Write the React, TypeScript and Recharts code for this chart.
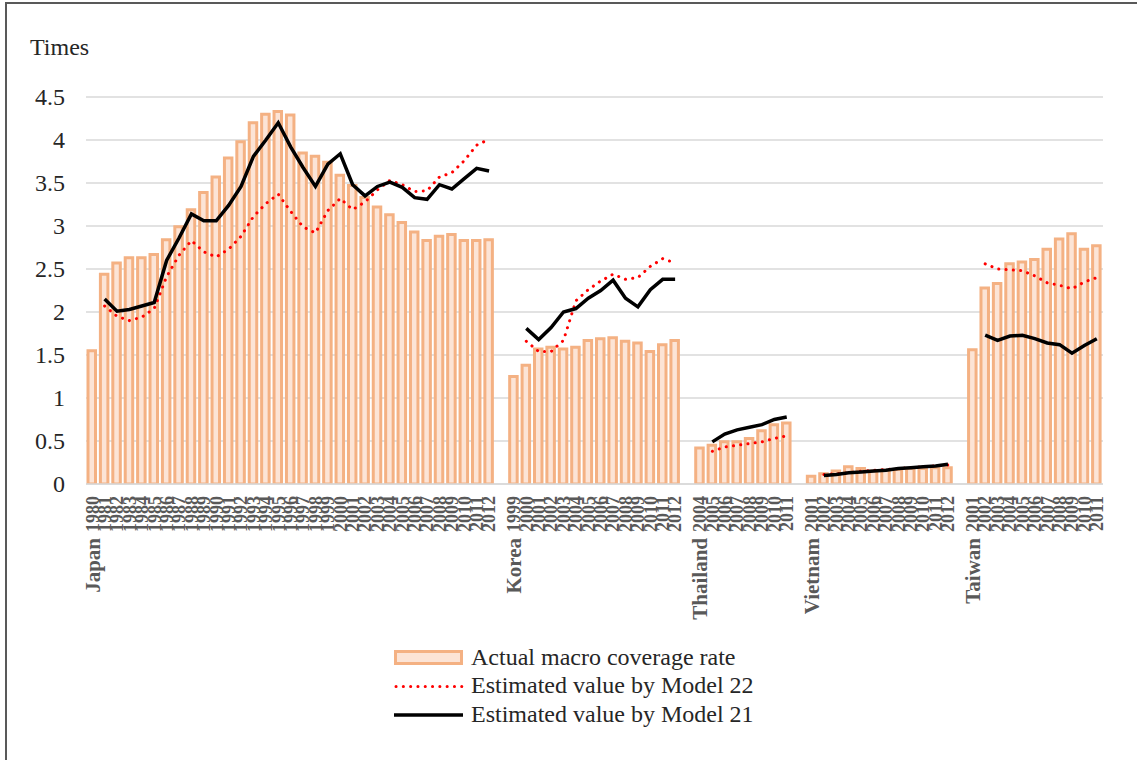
import React from "react";
import { ComposedChart, Bar, Line, XAxis, YAxis, CartesianGrid } from "recharts";

const countries = ["Japan", "Korea", "Thailand", "Vietnam", "Taiwan"];

const japanYears = ["1980","1981","1982","1983","1984","1985","1986","1987","1988","1989","1990","1991","1992","1993","1994","1995","1996","1997","1998","1999","2000","2001","2002","2003","2004","2005","2006","2007","2008","2009","2010","2011","2012"];
const japanActual = [1.55,2.44,2.57,2.63,2.63,2.67,2.84,2.99,3.19,3.39,3.57,3.79,3.98,4.2,4.3,4.33,4.29,3.85,3.81,3.74,3.59,3.47,3.33,3.22,3.13,3.04,2.93,2.83,2.88,2.9,2.83,2.83,2.84];
const japanM21 = [null,2.15,2.01,2.03,2.07,2.11,2.6,2.86,3.14,3.06,3.06,3.24,3.46,3.81,4.0,4.2,3.92,3.68,3.46,3.72,3.84,3.48,3.35,3.46,3.51,3.45,3.33,3.31,3.48,3.43,3.55,3.67,3.64];
const japanM22 = [null,2.07,1.95,1.9,1.94,2.04,2.41,2.66,2.83,2.7,2.64,2.73,2.88,3.11,3.26,3.37,3.17,2.99,2.92,3.18,3.32,3.19,3.28,3.42,3.53,3.48,3.4,3.41,3.57,3.62,3.76,3.94,4.01];

const koreaYears = ["1999","2000","2001","2002","2003","2004","2005","2006","2007","2008","2009","2010","2011","2012"];
const koreaActual = [1.25,1.38,1.57,1.59,1.57,1.59,1.67,1.69,1.7,1.66,1.64,1.54,1.62,1.67];
const koreaM21 = [null,1.81,1.68,1.82,2.0,2.04,2.16,2.25,2.37,2.16,2.06,2.26,2.38,2.38];
const koreaM22 = [null,1.66,1.54,1.54,1.67,2.13,2.26,2.36,2.44,2.38,2.4,2.53,2.62,2.57];

const thailandYears = ["2004","2005","2006","2007","2008","2009","2010","2011"];
const thailandActual = [0.42,0.45,0.49,0.49,0.53,0.62,0.69,0.71];
const thailandM21 = [null,0.49,0.58,0.63,0.66,0.69,0.75,0.78];
const thailandM22 = [null,0.38,0.43,0.45,0.47,0.49,0.53,0.56];

const vietnamYears = ["2001","2002","2003","2004","2005","2006","2007","2008","2009","2010","2011","2012"];
const vietnamActual = [0.09,0.12,0.15,0.2,0.18,0.15,0.16,0.17,0.18,0.18,0.19,0.19];
const vietnamM21 = [null,0.1,0.11,0.13,0.14,0.15,0.16,0.18,0.19,0.2,0.21,0.23];
const vietnamM22 = [null,0.11,0.12,0.13,0.15,0.16,0.17,0.18,0.19,0.2,0.21,0.22];

const taiwanYears = ["2001","2002","2003","2004","2005","2006","2007","2008","2009","2010","2011"];
const taiwanActual = [1.56,2.28,2.33,2.56,2.58,2.61,2.73,2.85,2.91,2.73,2.77];
const taiwanM21 = [null,1.73,1.67,1.72,1.73,1.69,1.64,1.62,1.52,1.61,1.69];
const taiwanM22 = [null,2.56,2.5,2.49,2.48,2.42,2.34,2.31,2.27,2.35,2.4];

const yTicks = [0, 0.5, 1, 1.5, 2, 2.5, 3, 3.5, 4, 4.5];

const groups = [
  { years: japanYears, actual: japanActual, m21: japanM21, m22: japanM22 },
  { years: koreaYears, actual: koreaActual, m21: koreaM21, m22: koreaM22 },
  { years: thailandYears, actual: thailandActual, m21: thailandM21, m22: thailandM22 },
  { years: vietnamYears, actual: vietnamActual, m21: vietnamM21, m22: vietnamM22 },
  { years: taiwanYears, actual: taiwanActual, m21: taiwanM21, m22: taiwanM22 },
];

type Row = { key: string; country: string; year: string; actual: number | null; m21: number | null; m22: number | null };
const rows: Row[] = [];
groups.forEach((g, gi) => {
  if (gi > 0) rows.push({ key: "gap" + gi, country: "", year: "", actual: null, m21: null, m22: null });
  g.years.forEach((yr, i) => {
    rows.push({
      key: countries[gi] + "-" + yr,
      country: i === 0 ? countries[gi] : "",
      year: yr,
      actual: g.actual[i],
      m21: g.m21[i],
      m22: g.m22[i],
    });
  });
});
const rowByKey: Record<string, Row> = {};
rows.forEach((r) => (rowByKey[r.key] = r));

const FONT = '"Liberation Serif", "Times New Roman", serif';

const XTick = (props: any) => {
  const { x, payload } = props;
  const r = rowByKey[payload.value];
  if (!r || !r.year) return null;
  return (
    <g transform={`translate(${x},496) rotate(-90)`}>
      <text x={0} y={0} dy="0.35em" textAnchor="end" fontFamily={FONT} fontWeight="bold" fontSize={18} fill="#595959">
        {r.year}
      </text>
      {r.country ? (
        <text x={-42} y={0} dy="0.35em" textAnchor="end" fontFamily={FONT} fontWeight="bold" fontSize={21} fill="#595959">
          {r.country}
        </text>
      ) : null}
    </g>
  );
};

const YTick = (props: any) => {
  const { y, payload } = props;
  return (
    <text x={65} y={y} dy="0.35em" textAnchor="end" fontFamily={FONT} fontSize={24} fill="#262626">
      {String(payload.value)}
    </text>
  );
};

export default function App() {
  return (
    <div style={{ position: "fixed", left: 0, top: 0, width: 1137, height: 760, overflow: "hidden", background: "#fff" }}>
      <div style={{ position: "absolute", left: 5, top: 2, width: 1300, height: 900, border: "2px solid #595959" }} />
      <div style={{ position: "absolute", left: 0, top: 0 }}>
        <ComposedChart width={1137} height={760} data={rows} margin={{ top: 97, right: 34, bottom: 0, left: 26 }} barCategoryGap={0}>
          <CartesianGrid vertical={false} stroke="#D9D9D9" strokeWidth={1.5} />
          <XAxis dataKey="key" interval={0} tick={<XTick />} tickLine={false} axisLine={{ stroke: "#D9D9D9", strokeWidth: 1.5 }} height={276} padding={{ left: 0, right: 0 }} />
          <YAxis domain={[0, 4.5]} ticks={yTicks} tick={<YTick />} axisLine={false} tickLine={false} width={60} allowDataOverflow />
          <Bar dataKey="actual" fill="#FCE4D6" stroke="#F4B183" strokeWidth={3} barSize={7.5} isAnimationActive={false} />
          <Line dataKey="m22" type="linear" stroke="#FF0000" strokeWidth={3} strokeDasharray="0.1 7.2" strokeLinecap="round" dot={false} activeDot={false} connectNulls={false} isAnimationActive={false} />
          <Line dataKey="m21" type="linear" stroke="#000000" strokeWidth={3.5} dot={false} activeDot={false} connectNulls={false} isAnimationActive={false} />
        </ComposedChart>
      </div>
      <svg style={{ position: "absolute", left: 0, top: 0 }} width={1137} height={760} pointerEvents="none">
        <text x={30} y={55} fontFamily={FONT} fontSize={24} fill="#262626">Times</text>
        <rect x={395.5} y={651.5} width={66} height={12} fill="#FCE4D6" stroke="#F4B183" strokeWidth={3} />
        <line x1={396} y1={686.5} x2={462} y2={686.5} stroke="#FF0000" strokeWidth={3} strokeDasharray="0.1 7.2" strokeLinecap="round" />
        <line x1={394} y1={715} x2={463} y2={715} stroke="#000000" strokeWidth={3.5} />
        <text x={471} y={665} fontFamily={FONT} fontSize={24} fill="#262626">Actual macro coverage rate</text>
        <text x={471} y={693} fontFamily={FONT} fontSize={24} fill="#262626">Estimated value by Model 22</text>
        <text x={471} y={722} fontFamily={FONT} fontSize={24} fill="#262626">Estimated value by Model 21</text>
      </svg>
    </div>
  );
}
